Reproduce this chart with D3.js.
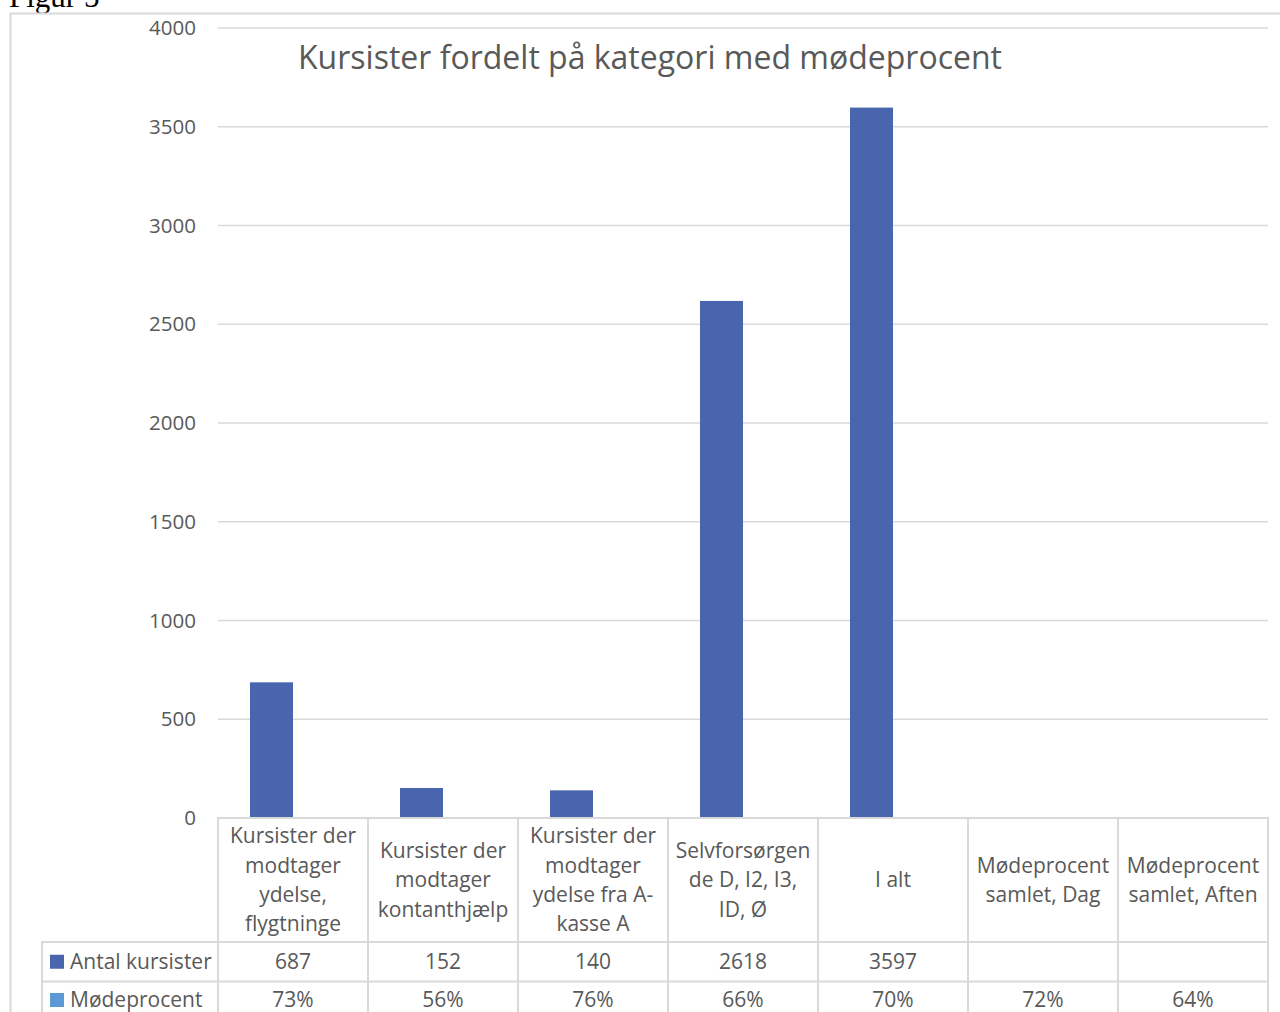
<!DOCTYPE html>
<html>
<head>
<meta charset="utf-8">
<script src="https://cdn.jsdelivr.net/npm/d3@7"></script>
<style>
  html, body { margin: 0; padding: 0; background: #fff; }
  svg { display: block; }
  text { font-family: "Open Sans", "Noto Sans", sans-serif; fill: #595959; }
</style>
</head>
<body>
<svg id="chart" width="1280" height="1012"></svg>
<script>
// ---- data ----
const categories = [
  "Kursister der modtager ydelse, flygtninge",
  "Kursister der modtager kontanthjælp",
  "Kursister der modtager ydelse fra A-kasse A",
  "Selvforsørgende D, I2, I3, ID, Ø",
  "I alt",
  "Mødeprocent samlet, Dag",
  "Mødeprocent samlet, Aften"
];
const categoryLines = [
  ["Kursister der", "modtager", "ydelse,", "flygtninge"],
  ["Kursister der", "modtager", "kontanthjælp"],
  ["Kursister der", "modtager", "ydelse fra A-", "kasse A"],
  ["Selvforsørgen", "de D, I2, I3,", "ID, Ø"],
  ["I alt"],
  ["Mødeprocent", "samlet, Dag"],
  ["Mødeprocent", "samlet, Aften"]
];
const seriesNames = ["Antal kursister", "Mødeprocent"];
const antalKursister = [687, 152, 140, 2618, 3597, null, null];
const moedeprocent = [0.73, 0.56, 0.76, 0.66, 0.70, 0.72, 0.64];
const antalLabels = ["687", "152", "140", "2618", "3597", "", ""];
const procentLabels = ["73%", "56%", "76%", "66%", "70%", "72%", "64%"];
const yTicks = [0, 500, 1000, 1500, 2000, 2500, 3000, 3500, 4000];
const title = "Kursister fordelt på kategori med mødeprocent";
const figLabel = "Figur 5";

// ---- layout ----
const svg = d3.select("#chart");
const plotLeft = 218, plotRight = 1268, plotTop = 28, plotBottom = 818;
const headerBottom = 942, row1Bottom = 981.5, tableBottom = 1030;
const legendLeft = 42;
const gridColor = "#d9d9d9";
const colors = ["#4865ad", "#5b9bd5"];

const y = d3.scaleLinear().domain([0, 4000]).range([plotBottom, plotTop]);
const x = d3.scaleBand().domain(categories).range([plotLeft, plotRight]).padding(0);
const xs = d3.scaleBand().domain(seriesNames).range([0, x.bandwidth()])
  .paddingInner(0).paddingOuter(0.744);

// figure label (serif, partly cut off at top as in the source page)
svg.append("text").attr("x", 9).attr("y", 7)
  .style("font-family", "'Liberation Serif', 'Times New Roman', serif")
  .style("font-size", "31px").style("fill", "#000").text(figLabel);

// chart frame (left & top)
svg.append("line").attr("x1", 10.5).attr("x2", 10.5).attr("y1", 13.5).attr("y2", 1012)
  .attr("stroke", gridColor).attr("stroke-width", 2);
svg.append("line").attr("x1", 10).attr("x2", 1280).attr("y1", 13.5).attr("y2", 13.5)
  .attr("stroke", gridColor).attr("stroke-width", 2);

// gridlines
svg.append("g").selectAll("line").data(yTicks.filter(d => d > 0)).join("line")
  .attr("x1", plotLeft).attr("x2", plotRight)
  .attr("y1", d => y(d)).attr("y2", d => y(d))
  .attr("stroke", gridColor).attr("stroke-width", 1.5);

// y axis labels via d3 axis
const yAxis = svg.append("g").attr("transform", `translate(${plotLeft - 22},0)`)
  .call(d3.axisLeft(y).tickValues(yTicks).tickFormat(d3.format("d")).tickSize(0).tickPadding(0));
yAxis.select(".domain").remove();
yAxis.selectAll("text").style("font-size", "20.5px").style("fill", "#595959")
  .style("font-family", "'Open Sans', sans-serif");

// title
svg.append("text").attr("x", 650).attr("y", 69).attr("text-anchor", "middle")
  .style("font-size", "32px").text(title);

// bars
const seriesData = [antalKursister, moedeprocent];
seriesData.forEach((vals, si) => {
  svg.append("g").selectAll("rect")
    .data(categories.map((c, i) => ({ c, v: vals[i] })).filter(d => d.v != null))
    .join("rect")
    .attr("x", d => x(d.c) + xs(seriesNames[si]))
    .attr("width", xs.bandwidth())
    .attr("y", d => y(d.v))
    .attr("height", d => y(0) - y(d.v))
    .attr("fill", colors[si]);
});

// ---- data table ----
const tg = svg.append("g");
const hline = (x1, x2, yy) => tg.append("line").attr("x1", x1).attr("x2", x2)
  .attr("y1", yy).attr("y2", yy).attr("stroke", gridColor).attr("stroke-width", 2);
const vline = (xx, y1, y2) => tg.append("line").attr("x1", xx).attr("x2", xx)
  .attr("y1", y1).attr("y2", y2).attr("stroke", gridColor).attr("stroke-width", 2);

hline(plotLeft - 1, plotRight + 1, plotBottom);
hline(legendLeft - 1, plotRight + 1, headerBottom);
hline(legendLeft - 1, plotRight + 1, row1Bottom);
vline(legendLeft, headerBottom, tableBottom);
categories.forEach(c => vline(x(c), plotBottom, tableBottom));
vline(plotRight, plotBottom, tableBottom);

// header labels
const lineH = 29.3;
const fs = "21px";
categories.forEach((c, i) => {
  const lines = categoryLines[i];
  const cx = x(c) + x.bandwidth() / 2;
  const cy = (plotBottom + headerBottom) / 2;
  const t = tg.append("text").attr("text-anchor", "middle").style("font-size", fs);
  lines.forEach((ln, k) => {
    t.append("tspan").attr("x", cx)
      .attr("y", cy + (k - (lines.length - 1) / 2) * lineH)
      .attr("dy", "0.35em").text(ln);
  });
});

// value rows
const rowCenters = [(headerBottom + row1Bottom) / 2, 1000];
[antalLabels, procentLabels].forEach((labels, r) => {
  tg.append("g").selectAll("text").data(categories).join("text")
    .attr("x", c => x(c) + x.bandwidth() / 2)
    .attr("y", rowCenters[r]).attr("dy", "0.35em")
    .attr("text-anchor", "middle").style("font-size", fs)
    .text((c, i) => labels[i]);
  // legend
  tg.append("rect").attr("x", 50).attr("y", rowCenters[r] - 7)
    .attr("width", 14).attr("height", 14).attr("fill", colors[r]);
  tg.append("text").attr("x", 70).attr("y", rowCenters[r]).attr("dy", "0.35em")
    .style("font-size", fs).text(seriesNames[r]);
});
</script>
</body>
</html>
